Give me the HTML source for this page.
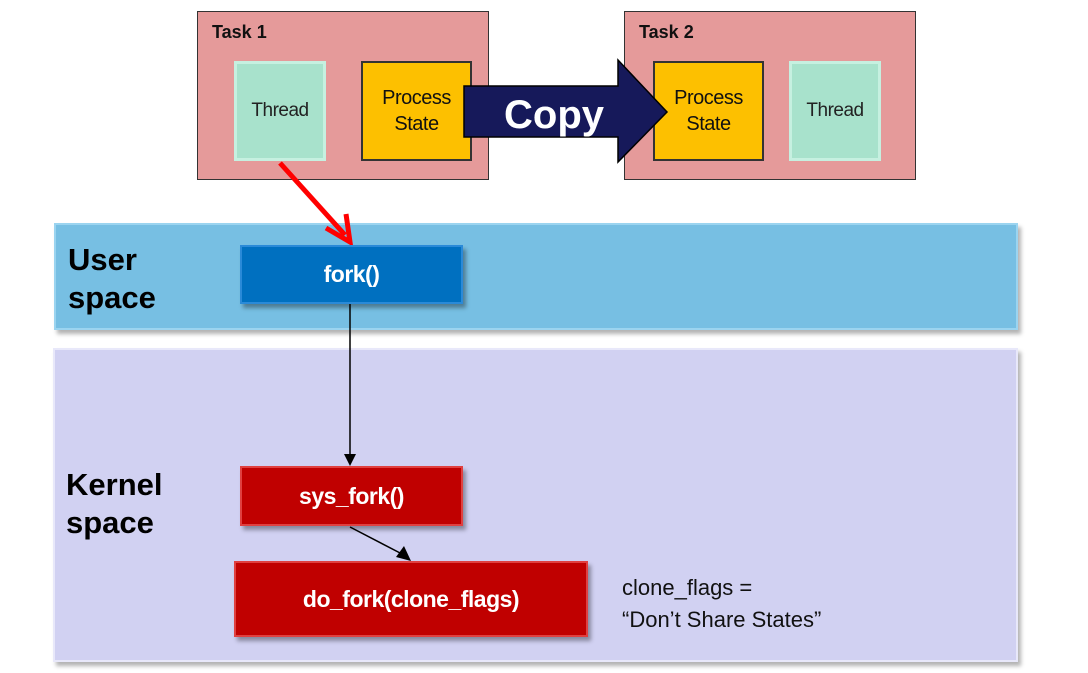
<!DOCTYPE html>
<html><head><style>
body{margin:0;width:1088px;height:673px;background:#fff;position:relative;overflow:hidden;font-family:"Liberation Sans",Arial,sans-serif}
.a{position:absolute;box-sizing:border-box}
.task{background:#e59a9a;border:1px solid #333}
.tl{font-weight:bold;font-size:18px;color:#111}
.thr{background:#a8e2cc;border:3px solid #c6f0e0;display:flex;align-items:center;justify-content:center;font-size:19px;color:#222;letter-spacing:-0.5px}
.ps{background:#fdc000;border:2px solid #333;display:flex;align-items:center;justify-content:center;text-align:center;font-size:20px;line-height:26px;color:#111;letter-spacing:-0.5px}
.fn{display:flex;align-items:center;justify-content:center;color:#fff;font-weight:bold;font-size:23px;box-shadow:3px 4px 4px rgba(0,0,0,.35);letter-spacing:-0.5px}
.big{font-weight:bold;font-size:31px;line-height:38px;color:#000}
</style></head><body>
<div class="a" style="left:54px;top:223px;width:964px;height:107px;background:#77bfe3;border:2px solid #9bd4f0;box-shadow:3px 4px 4px rgba(0,0,0,.3)"></div>
<div class="a" style="left:53px;top:348px;width:965px;height:314px;background:#d1d1f2;border:2px solid #e8e8fa;box-shadow:3px 4px 4px rgba(0,0,0,.3)"></div>
<div class="a big" style="left:68px;top:241px">User<br>space</div>
<div class="a big" style="left:66px;top:466px">Kernel<br>space</div>

<div class="a task" style="left:197px;top:11px;width:292px;height:169px"></div>
<div class="a tl" style="left:212px;top:22px">Task 1</div>
<div class="a thr" style="left:234px;top:61px;width:92px;height:100px">Thread</div>
<div class="a ps" style="left:361px;top:61px;width:111px;height:100px">Process<br>State</div>

<div class="a task" style="left:624px;top:11px;width:292px;height:169px"></div>
<div class="a tl" style="left:639px;top:22px">Task 2</div>
<div class="a ps" style="left:653px;top:61px;width:111px;height:100px">Process<br>State</div>
<div class="a thr" style="left:789px;top:61px;width:92px;height:100px">Thread</div>

<svg class="a" style="left:0;top:0" width="1088" height="673">
<polygon points="464,86 618,86 618,60 667,112 618,162 618,137 464,137" fill="#16195a" stroke="#000" stroke-width="1.5"/>
<text x="554" y="128" text-anchor="middle" font-family="Liberation Sans,Arial" font-weight="bold" font-size="40" fill="#fff">Copy</text>
<line x1="280" y1="163" x2="345" y2="235" stroke="#f00" stroke-width="5"/>
<polyline points="326,228 350,242 346,214" fill="none" stroke="#f00" stroke-width="5"/>
<line x1="350" y1="304" x2="350" y2="454" stroke="#000" stroke-width="1.5"/>
<polygon points="344,454 356,454 350,466" fill="#000"/>
<line x1="350" y1="527" x2="402" y2="554" stroke="#000" stroke-width="1.5"/>
<polygon points="396,557 404,546 411,561" fill="#000"/>
</svg>

<div class="a fn" style="left:240px;top:245px;width:223px;height:59px;background:#0070c0;border:2px solid #2a8ad8">fork()</div>
<div class="a fn" style="left:240px;top:466px;width:223px;height:60px;background:#c00000;border:2px solid #e04040">sys_fork()</div>
<div class="a fn" style="left:234px;top:561px;width:354px;height:76px;background:#c00000;border:2px solid #e04040">do_fork(clone_flags)</div>
<div class="a" style="left:622px;top:572px;font-size:22px;line-height:32px;color:#111">clone_flags =<br>“Don’t Share States”</div>
</body></html>
